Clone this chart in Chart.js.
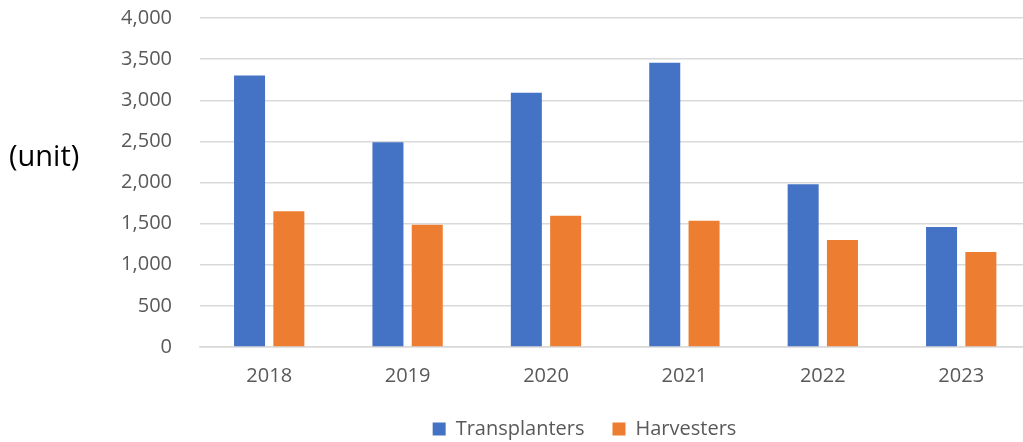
<!DOCTYPE html>
<html>
<head>
<meta charset="utf-8">
<script src="https://cdn.jsdelivr.net/npm/chart.js@4.4.0/dist/chart.umd.min.js"></script>
<style>
  html, body { margin: 0; padding: 0; background: #ffffff; overflow: hidden; }
  #wrap { position: relative; width: 1169px; height: 442px; }
</style>
</head>
<body>
<div id="wrap"><canvas id="c" width="1169" height="442"></canvas></div>
<script>
const categories = ['2018', '2019', '2020', '2021', '2022', '2023'];
const transplanters = [3300, 2490, 3090, 3455, 1980, 1460];
const harvesters = [1650, 1485, 1595, 1535, 1300, 1155];
const seriesNames = ['Transplanters', 'Harvesters'];
const unitLabel = '(unit)';
const yMin = 0, yMax = 4000, yStep = 500;

const unitPlugin = {
  id: 'unitLabel',
  afterDraw(chart) {
    const ctx = chart.ctx;
    ctx.save();
    ctx.font = '29px "Open Sans"';
    ctx.fillStyle = '#000000';
    ctx.textAlign = 'left';
    ctx.textBaseline = 'middle';
    ctx.fillText(unitLabel, 9, 158);
    ctx.restore();
  }
};

new Chart(document.getElementById('c'), {
  type: 'bar',
  data: {
    labels: categories,
    datasets: [
      { label: seriesNames[0], data: transplanters, backgroundColor: '#4472C4', borderWidth: 0 },
      { label: seriesNames[1], data: harvesters, backgroundColor: '#ED7D31', borderWidth: 0 }
    ]
  },
  options: {
    responsive: false,
    animation: false,
    devicePixelRatio: 1,
    barPercentage: 0.789,
    categoryPercentage: 0.568,
    layout: { padding: { top: 18, bottom: -7, left: 0, right: 0 } },
    scales: {
      x: {
        afterFit(s) { s.height = 44; s.paddingTop = 0; s.paddingBottom = 0; },
        grid: { display: false, drawTicks: false },
        border: { display: true, color: '#d9d9d9', width: 1.5 },
        ticks: { color: '#595959', font: { family: 'Open Sans', size: 20 }, padding: 17 }
      },
      y: {
        min: yMin, max: yMax,
        afterFit(s) { s.width = 200; s.paddingTop = 0; s.paddingBottom = 0; },
        grid: { color: '#d9d9d9', lineWidth: 1.5, drawTicks: false },
        border: { display: false },
        ticks: { stepSize: yStep, color: '#595959', font: { family: 'Open Sans', size: 20 }, padding: 28 }
      },
      yRight: {
        position: 'right',
        display: true,
        afterFit(s) { s.width = 138.6; s.paddingTop = 0; s.paddingBottom = 0; },
        grid: { display: false, drawTicks: false },
        border: { display: false },
        ticks: { display: false }
      }
    },
    plugins: {
      legend: {
        position: 'bottom',
        labels: {
          color: '#595959',
          font: { family: 'Open Sans', size: 20 },
          boxWidth: 13,
          boxHeight: 13,
          padding: 28
        }
      },
      tooltip: { enabled: false }
    }
  },
  plugins: [unitPlugin]
});
</script>
</body>
</html>
